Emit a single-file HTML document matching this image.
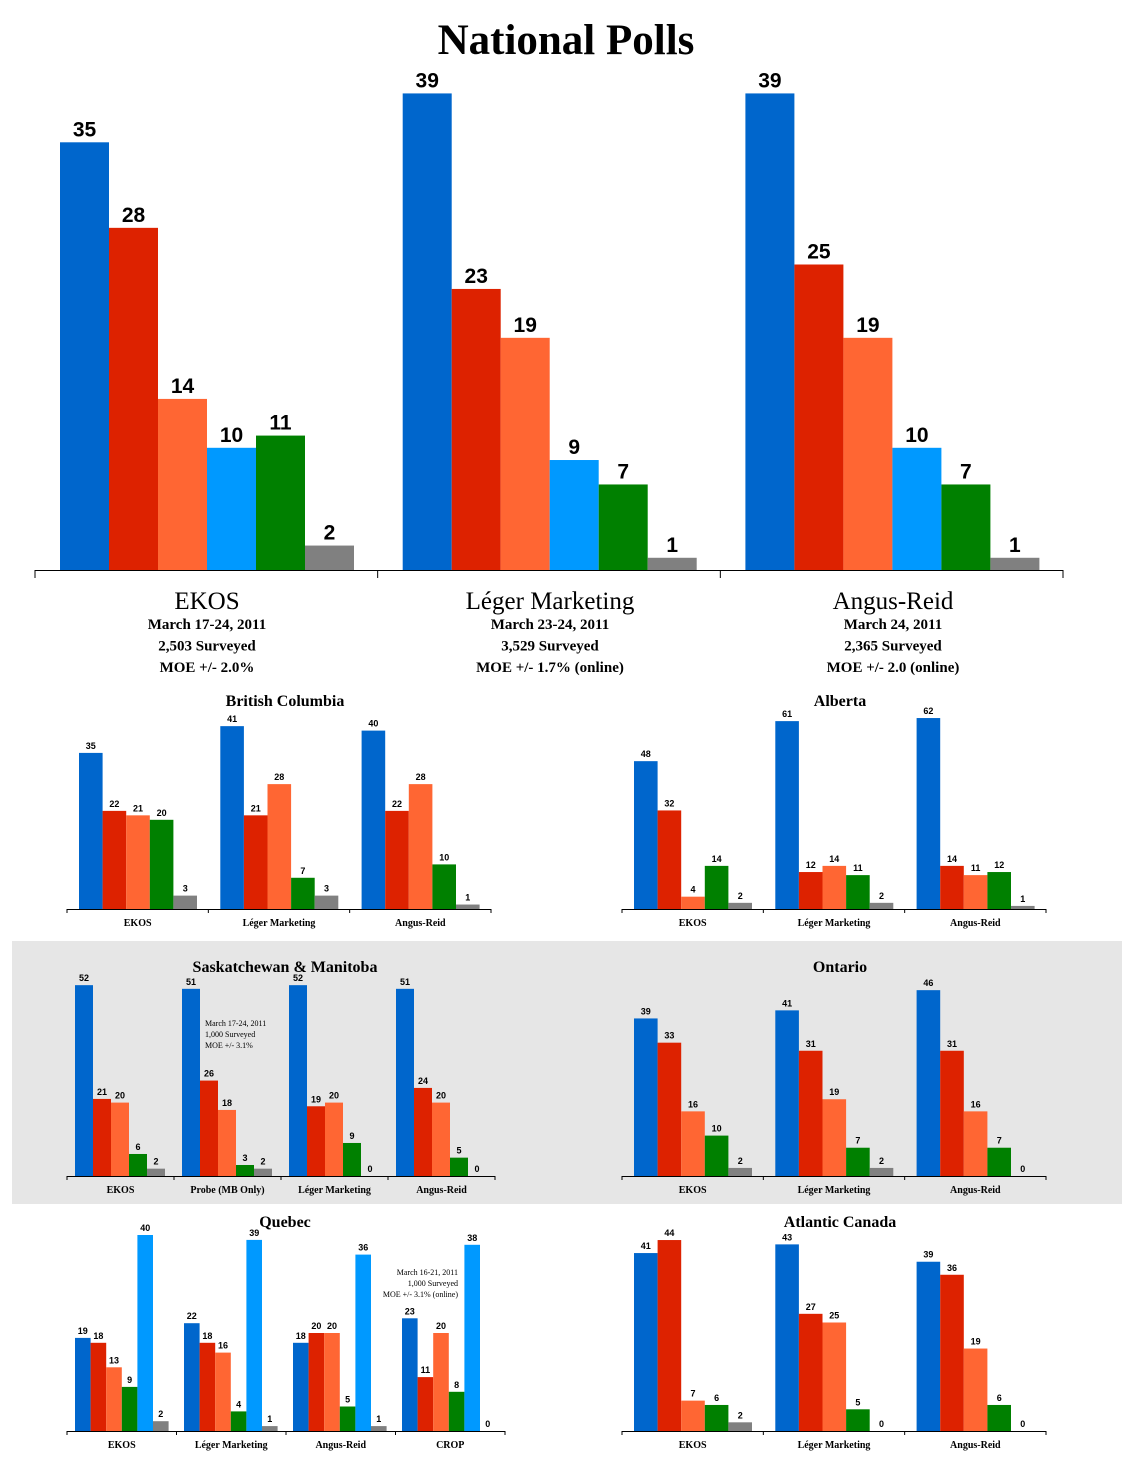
<!DOCTYPE html>
<html><head><meta charset="utf-8"><style>
body{margin:0;background:#fff}
svg{display:block}
</style></head><body>
<svg id="c" width="1133" height="1478" xmlns="http://www.w3.org/2000/svg">
<rect x="12" y="941" width="1110" height="263" fill="#e6e6e6"/>
<text x="566" y="54" text-anchor="middle" font-family="Liberation Serif, serif" font-weight="bold" font-size="43">National Polls</text>
</svg>
<script>
const colors5=["#0066CC","#DD2200","#FF6633","#008000","#808080"];
const colorsMain=["#0066CC","#DD2200","#FF6633","#0099FF","#008000","#808080"];
const colorsQc=["#0066CC","#DD2200","#FF6633","#008000","#0099FF","#808080"];

const nationalPolls=["EKOS","Léger Marketing","Angus-Reid"];
const nationalValues=[[35,28,14,10,11,2],[39,23,19,9,7,1],[39,25,19,10,7,1]];
const nationalDates=["March 17-24, 2011","March 23-24, 2011","March 24, 2011"];
const nationalSurveyed=["2,503 Surveyed","3,529 Surveyed","2,365 Surveyed"];
const nationalMoe=["MOE +/- 2.0%","MOE +/- 1.7% (online)","MOE +/- 2.0 (online)"];

const bcPolls=["EKOS","Léger Marketing","Angus-Reid"];
const bcValues=[[35,22,21,20,3],[41,21,28,7,3],[40,22,28,10,1]];
const abPolls=["EKOS","Léger Marketing","Angus-Reid"];
const abValues=[[48,32,4,14,2],[61,12,14,11,2],[62,14,11,12,1]];
const skPolls=["EKOS","Probe (MB Only)","Léger Marketing","Angus-Reid"];
const skValues=[[52,21,20,6,2],[51,26,18,3,2],[52,19,20,9,0],[51,24,20,5,0]];
const onPolls=["EKOS","Léger Marketing","Angus-Reid"];
const onValues=[[39,33,16,10,2],[41,31,19,7,2],[46,31,16,7,0]];
const qcPolls=["EKOS","Léger Marketing","Angus-Reid","CROP"];
const qcValues=[[19,18,13,9,40,2],[22,18,16,4,39,1],[18,20,20,5,36,1],[23,11,20,8,38,0]];
const atPolls=["EKOS","Léger Marketing","Angus-Reid"];
const atValues=[[41,44,7,6,2],[43,27,25,5,0],[39,36,19,6,0]];

const svg=document.getElementById('c');
const NS="http://www.w3.org/2000/svg";
function mk(tag,attrs,txt){const e=document.createElementNS(NS,tag);for(const k in attrs)e.setAttribute(k,attrs[k]);if(txt!==undefined)e.textContent=txt;svg.appendChild(e);return e;}

function chart(o){
  const y=v=>o.base-v*o.scale;
  const x=(g,i)=>o.x0+g*o.gap+i*o.bw;
  const ax=mk('line',{x1:o.ax0,x2:o.ax1,y1:o.base+0.5,y2:o.base+0.5,stroke:'#000','stroke-width':1});
  
  
  const n=o.polls.length;
  for(let t=0;t<=n;t++){
    const tx=o.ax0+(o.ax1-o.ax0)*t/n;
    const tk=mk('line',{x1:tx,x2:tx,y1:o.base,y2:o.base+o.tick,stroke:'#000','stroke-width':1});
    
    
  }
  o.values.forEach((vals,g)=>{
    vals.forEach((v,i)=>{
      const r=mk('rect',{x:x(g,i),y:y(v),width:o.bw,height:o.base-y(v),fill:o.colors[i]});
      
      
      const t=mk('text',{x:x(g,i)+o.bw/2,y:y(v)-o.lgap,'text-anchor':'middle','font-family':'Liberation Sans, sans-serif','font-weight':'bold','font-size':o.lfs},String(v));
      
      
    });
    if(o.catfs){
      const cx=o.ax0+(o.ax1-o.ax0)*(g+0.5)/n;
      const c=mk('text',{x:cx,y:o.base+o.catdy,'text-anchor':'middle','font-family':'Liberation Serif, serif','font-weight':'bold','font-size':o.catfs},o.polls[g]);
      
      
    }
  });
  if(o.title){
    const tt=mk('text',{x:o.tx,y:o.ty,'text-anchor':'middle','font-family':'Liberation Serif, serif','font-weight':'bold','font-size':16},o.title);
    
    
  }
}

chart({name:'national',polls:nationalPolls,values:nationalValues,colors:colorsMain,base:570,scale:12.22,x0:60,gap:342.7,bw:49,ax0:35,ax1:1063,tick:8,lgap:6,lfs:21});
nationalPolls.forEach((p,g)=>{
  const cx=207+g*343;
  const a=mk('text',{x:cx,y:609,'text-anchor':'middle','font-family':'Liberation Serif, serif','font-size':25},p);
  
  
  [nationalDates[g],nationalSurveyed[g],nationalMoe[g]].forEach((s,k)=>{
    const e=mk('text',{x:cx,y:629+k*21.5,'text-anchor':'middle','font-family':'Liberation Serif, serif','font-weight':'bold','font-size':15},s);
    
    
  });
});

const sm={lgap:4,lfs:9,catfs:10,catdy:17,tick:4};
chart(Object.assign({name:'bc',title:'British Columbia',tx:285,ty:706,polls:bcPolls,values:bcValues,colors:colors5,base:909,scale:4.46,x0:79,gap:141.3,bw:23.6,ax0:67,ax1:491},sm));
chart(Object.assign({name:'alberta',title:'Alberta',tx:840,ty:706,polls:abPolls,values:abValues,colors:colors5,base:909,scale:3.08,x0:634,gap:141.3,bw:23.6,ax0:622,ax1:1046},sm));
chart(Object.assign({name:'sask',title:'Saskatchewan & Manitoba',tx:285,ty:972,polls:skPolls,values:skValues,colors:colors5,base:1176,scale:3.67,x0:75,gap:107,bw:18,ax0:67,ax1:495},sm));
chart(Object.assign({name:'ontario',title:'Ontario',tx:840,ty:972,polls:onPolls,values:onValues,colors:colors5,base:1176,scale:4.04,x0:634,gap:141.3,bw:23.6,ax0:622,ax1:1046},sm));
chart(Object.assign({name:'quebec',title:'Quebec',tx:285,ty:1227,polls:qcPolls,values:qcValues,colors:colorsQc,base:1431,scale:4.9,x0:75,gap:109,bw:15.6,ax0:67,ax1:505},sm));
chart(Object.assign({name:'atlantic',title:'Atlantic Canada',tx:840,ty:1227,polls:atPolls,values:atValues,colors:colors5,base:1431,scale:4.34,x0:634,gap:141.3,bw:23.6,ax0:622,ax1:1046},sm));

["March 17-24, 2011","1,000 Surveyed","MOE +/- 3.1%"].forEach((s,k)=>{
  const e=mk('text',{x:205,y:1026+k*11,'font-family':'Liberation Serif, serif','font-size':8},s);
  
  
});
["March 16-21, 2011","1,000 Surveyed","MOE +/- 3.1% (online)"].forEach((s,k)=>{
  const e=mk('text',{x:458,y:1275+k*11,'text-anchor':'end','font-family':'Liberation Serif, serif','font-size':8},s);
  
  
});
</script>
</body></html>
